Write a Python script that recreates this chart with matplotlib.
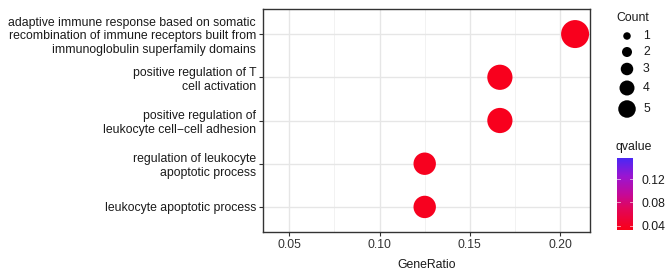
import matplotlib
matplotlib.use("Agg")
import matplotlib.pyplot as plt
import numpy as np
from matplotlib.colors import LinearSegmentedColormap, Normalize
from matplotlib.ticker import MultipleLocator

plt.rcParams['font.family'] = ['Liberation Sans', 'DejaVu Sans']

terms = [
    "adaptive immune response based on somatic\nrecombination of immune receptors built from\nimmunoglobulin superfamily domains",
    "positive regulation of T\ncell activation",
    "positive regulation of\nleukocyte cell\u2212cell adhesion",
    "regulation of leukocyte\napoptotic process",
    "leukocyte apoptotic process",
]
gene_ratio = [5/24, 4/24, 4/24, 3/24, 3/24]
counts = [5, 4, 4, 3, 3]
qvalues = [0.036, 0.036, 0.036, 0.037, 0.037]
q_range = [0.033, 0.156]
legend_counts = [1, 2, 3, 4, 5]
x_ticks = [0.05, 0.10, 0.15, 0.20]
cbar_ticks = [0.04, 0.08, 0.12]

W, H = 671, 275
fig = plt.figure(figsize=(W/100, H/100), dpi=100)

def px2pt(d):
    return d * 72 / 100

def plot_size(c):
    d = 14 + 2.8 * c
    return px2pt(d) ** 2

def legend_size(c):
    d = 5 + 2.5 * c
    return px2pt(d) ** 2

cmap = LinearSegmentedColormap.from_list(
    "rb", [(0.0, "#FA0018"), (0.3, "#E2065A"), (0.5, "#C40A9A"),
           (0.75, "#9A16D2"), (1.0, "#4A28F5")])
norm = Normalize(vmin=q_range[0], vmax=q_range[1])

ax = fig.add_axes([263/W, 1-232/H, (590-263)/W, (232-9)/H])
ypos = np.arange(len(terms))[::-1]
ax.scatter(gene_ratio, ypos, s=[plot_size(c) for c in counts],
           c=qvalues, cmap=cmap, norm=norm, edgecolors='none', zorder=3)
ax.set_xlim(0.0354, 0.2166)
ax.set_ylim(-0.58, len(terms) - 1 + 0.58)
ax.set_yticks(ypos)
ax.set_yticklabels(terms, fontsize=8.8, color='#1A1A1A', linespacing=1.2)
ax.set_xticks(x_ticks)
ax.set_xticklabels([f"{t:.2f}" for t in x_ticks], fontsize=8.8, color='#333333')
ax.xaxis.set_minor_locator(MultipleLocator(0.025))
ax.grid(True, which='major', color='#E6E6E6', linewidth=1.0, zorder=0)
ax.grid(True, which='minor', axis='x', color='#F0F0F0', linewidth=0.6, zorder=0)
ax.set_axisbelow(True)
for sp in ax.spines.values():
    sp.set_color('#333333')
    sp.set_linewidth(1.0)
ax.tick_params(axis='both', length=3, width=0.8, color='#333333', pad=2)
ax.tick_params(which='minor', length=0)
ax.set_xlabel("GeneRatio", fontsize=8.8, color='#1A1A1A', labelpad=6)

# Legends overlay (pixel coordinates)
lax = fig.add_axes([0, 0, 1, 1])
lax.set_xlim(0, W)
lax.set_ylim(H, 0)
lax.axis('off')
lax.text(616, 18, "Count", fontsize=8.8, va='center', ha='left', color='#1A1A1A')
leg_y = [36, 52, 69, 88, 109]
for c, y in zip(legend_counts, leg_y):
    lax.scatter([627], [y], s=legend_size(c), color='black', edgecolors='none')
    lax.text(643, y, str(c), fontsize=8.8, va='center', ha='left', color='#1A1A1A')
lax.text(616, 147, "qvalue", fontsize=8.8, va='center', ha='left', color='#1A1A1A')

cax = fig.add_axes([617/W, 1-230/H, 16/W, 72/H])
grad = np.linspace(q_range[0], q_range[1], 256).reshape(-1, 1)
cax.imshow(grad, aspect='auto', cmap=cmap, norm=norm, origin='lower',
           extent=[0, 1, q_range[0], q_range[1]])
cax.set_xticks([])
cax.yaxis.tick_right()
cax.set_yticks(cbar_ticks)
cax.set_yticklabels([f"{t:.2f}" for t in cbar_ticks], fontsize=8.8, color='#1A1A1A')
cax.tick_params(axis='y', length=0, pad=6)
for t in cbar_ticks:
    cax.plot([0, 0.2], [t, t], color='white', lw=0.6, alpha=0.7)
    cax.plot([0.8, 1], [t, t], color='white', lw=0.6, alpha=0.7)
cax.set_xlim(0, 1)
cax.set_ylim(q_range[0], q_range[1])
for sp in cax.spines.values():
    sp.set_visible(False)

fig.savefig("out.png", dpi=100)
